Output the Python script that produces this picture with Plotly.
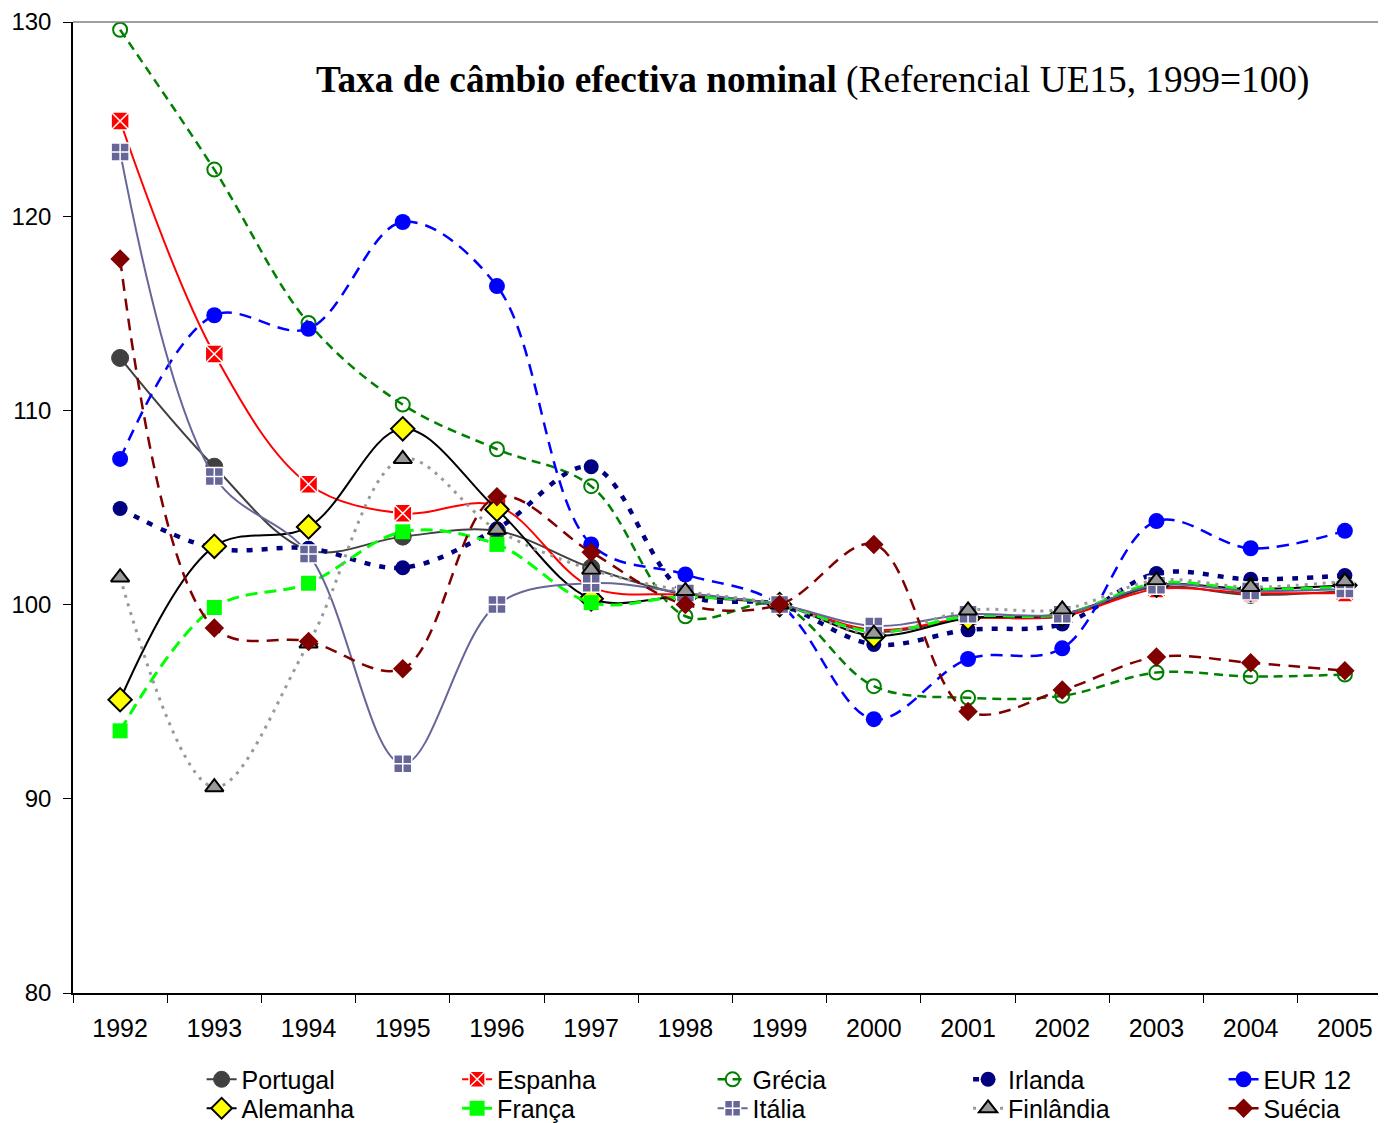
import plotly.graph_objects as go

years = ["1992", "1993", "1994", "1995", "1996", "1997", "1998", "1999",
         "2000", "2001", "2002", "2003", "2004", "2005"]

portugal = [112.7, 107.1, 102.8, 103.5, 103.8, 101.9, 100.5, 100.0, 98.6, 99.3, 99.4, 100.9, 100.5, 100.7]
espanha = [124.9, 112.9, 106.2, 104.7, 105.1, 100.9, 100.5, 100.0, 98.7, 99.3, 99.4, 100.8, 100.6, 100.6]
grecia = [129.6, 122.4, 114.5, 110.3, 108.0, 106.1, 99.4, 100.0, 95.8, 95.2, 95.3, 96.5, 96.3, 96.4]
irlanda = [104.95, 102.9, 102.9, 101.9, 103.9, 107.1, 100.6, 100.0, 97.95, 98.7, 99.0, 101.6, 101.3, 101.5]
eur12 = [107.5, 114.9, 114.2, 119.7, 116.4, 103.1, 101.55, 100.0, 94.1, 97.2, 97.75, 104.3, 102.9, 103.8]
alemanha = [95.1, 103.0, 104.0, 109.05, 104.9, 100.3, 100.4, 100.0, 98.4, 99.3, 99.5, 101.0, 100.8, 101.0]
franca = [93.5, 99.85, 101.1, 103.75, 103.1, 100.1, 100.4, 100.0, 98.6, 99.4, 99.5, 101.1, 100.8, 100.9]
italia = [123.3, 106.6, 102.6, 91.8, 100.0, 101.1, 100.6, 100.0, 98.9, 99.5, 99.5, 101.0, 100.7, 100.8]
finlandia = [101.4, 90.6, 98.0, 107.5, 103.85, 101.8, 100.7, 100.0, 98.5, 99.7, 99.75, 101.25, 100.9, 101.2]
suecia = [117.8, 98.8, 98.1, 96.7, 105.55, 102.7, 100.0, 100.0, 103.1, 94.5, 95.6, 97.3, 97.0, 96.6]

y_ticks = [80, 90, 100, 110, 120, 130]

title_bold = "Taxa de câmbio efectiva nominal"
title_rest = " (Referencial UE15, 1999=100)"

series = [
    ("Portugal", portugal, dict(color="#404040", width=2, dash="solid"),
     dict(symbol="circle", size=17, color="#404040", line=dict(color="#404040", width=1))),
    ("Espanha", espanha, dict(color="#FF0000", width=2, dash="solid"),
     dict(symbol="square-x", size=18, color="#FF0000", line=dict(color="white", width=1.5))),
    ("Grécia", grecia, dict(color="#008000", width=2.5, dash="9px,6px"),
     dict(symbol="circle-open", size=14, color="#008000", line=dict(color="#008000", width=2))),
    ("Irlanda", irlanda, dict(color="#000080", width=4.5, dash="6px,9px"),
     dict(symbol="circle", size=15, color="#000080", line=dict(color="#000080", width=0))),
    ("EUR 12", eur12, dict(color="#0000FF", width=2.5, dash="12px,8px"),
     dict(symbol="circle", size=16, color="#0000FF", line=dict(color="#0000FF", width=0))),
    ("Alemanha", alemanha, dict(color="#000000", width=2, dash="solid"),
     dict(symbol="diamond", size=18, color="#FFFF00", line=dict(color="#000000", width=2))),
    ("França", franca, dict(color="#00FF00", width=3, dash="12px,7px"),
     dict(symbol="square", size=15, color="#00FF00", line=dict(color="#00FF00", width=0))),
    ("Itália", italia, dict(color="#666699", width=2, dash="solid"),
     dict(symbol="square-cross", size=18, color="#666699", line=dict(color="white", width=1.5))),
    ("Finlândia", finlandia, dict(color="#999999", width=3, dash="3px,6px"),
     dict(symbol="triangle-up", size=16, color="#999999", line=dict(color="#000000", width=2))),
    ("Suécia", suecia, dict(color="#800000", width=2.5, dash="12px,8px"),
     dict(symbol="diamond", size=15, color="#800000", line=dict(color="#800000", width=0))),
]

fig = go.Figure()
legend_layouts = {}
col_x = [0.1399 + 0.1846 * c for c in range(5)]
row_y = [0.0596, 0.0336]
for i, (name, vals, line, marker) in enumerate(series):
    lg = "legend" if i == 0 else "legend%d" % (i + 1)
    fig.add_trace(go.Scatter(
        x=years, y=vals, name=name, mode="lines+markers",
        line=dict(shape="spline", smoothing=1.0, **line),
        marker=marker, legend=lg,
    ))
    legend_layouts[lg] = dict(
        x=col_x[i % 5], xanchor="left", y=row_y[i // 5], yanchor="top",
        xref="container", yref="container",
        orientation="h", font=dict(size=25), bgcolor="rgba(0,0,0,0)",
        borderwidth=0,
    )

fig.update_layout(
    width=1384, height=1115,
    margin=dict(l=65, r=0, t=14, b=130, autoexpand=False),
    paper_bgcolor="white", plot_bgcolor="white",
    font=dict(family="Liberation Sans, Arial, sans-serif", size=24, color="black"),
    showlegend=True,
    xaxis=dict(
        type="category", range=[-0.5, 13.5], automargin=False,
        showline=True, linecolor="black", linewidth=1.5,
        ticks="outside", ticklen=8, tickcolor="black", tickwidth=1,
        tickson="boundaries", showgrid=False, zeroline=False,
        tickfont=dict(size=25), ticklabelstandoff=12,
    ),
    yaxis=dict(
        range=[80, 130], tickvals=y_ticks, automargin=False,
        showline=True, linecolor="black", linewidth=1.5,
        ticks="outside", ticklen=8, tickcolor="black", tickwidth=1,
        showgrid=False, zeroline=False, tickfont=dict(size=24),
        ticklabelstandoff=7,
    ),
    shapes=[dict(type="line", xref="paper", yref="paper", x0=0, x1=1, y0=1, y1=1,
                 line=dict(color="#808080", width=1.5))],
    annotations=[dict(
        xref="paper", yref="paper", x=0.561, y=0.940, xanchor="center", yanchor="middle",
        text="<b>" + title_bold + "</b>" + title_rest, showarrow=False,
        font=dict(family="Liberation Serif, Times New Roman, serif", size=37.3, color="black"),
    )],
    **legend_layouts,
)

fig.write_html("out.html")
